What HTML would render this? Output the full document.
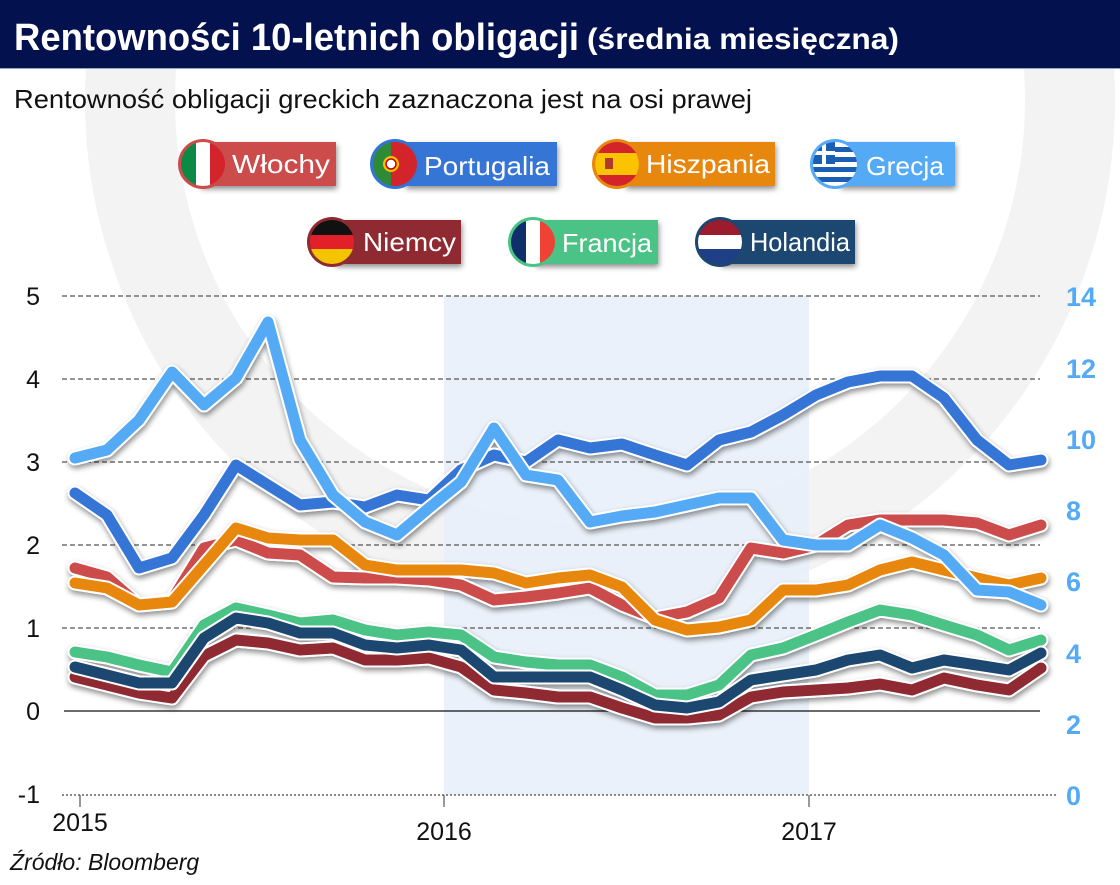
<!DOCTYPE html>
<html><head><meta charset="utf-8"><style>
html,body{margin:0;padding:0;background:#fff;}
svg{display:block;font-family:"Liberation Sans",sans-serif;}
</style></head><body>
<svg width="1120" height="885" viewBox="0 0 1120 885" xmlns="http://www.w3.org/2000/svg">
<defs>
<filter id="sh" x="-10%" y="-20%" width="120%" height="140%"><feGaussianBlur in="SourceAlpha" stdDeviation="3"/><feOffset dx="1" dy="3"/><feComponentTransfer><feFuncA type="linear" slope="0.45"/></feComponentTransfer><feMerge><feMergeNode/><feMergeNode in="SourceGraphic"/></feMerge></filter>
<clipPath id="cl"><circle cx="0" cy="0" r="22"/></clipPath>
</defs>
<!-- watermark -->
<circle cx="600" cy="100" r="470" fill="none" stroke="#f3f3f3" stroke-width="90"/>
<rect x="0" y="0" width="1120" height="68" fill="#03114f"/>
<circle cx="600" cy="100" r="470" fill="none" stroke="#ffffff" stroke-opacity="0.16" stroke-width="90" clip-path="inset(0 0 817px 0)"/>
<line x1="0" y1="68.5" x2="1120" y2="68.5" stroke="#9aa3c0" stroke-width="1"/>
<text x="14" y="50" fill="#fff" font-weight="bold" font-size="38" textLength="565" lengthAdjust="spacingAndGlyphs">Rentowności 10-letnich obligacji</text>
<text x="587" y="49" fill="#fff" font-weight="bold" font-size="30" textLength="312" lengthAdjust="spacingAndGlyphs">(średnia miesięczna)</text>
<text x="14" y="108" fill="#111" font-size="26" textLength="738" lengthAdjust="spacingAndGlyphs">Rentowność obligacji greckich zaznaczona jest na osi prawej</text>

<!-- band -->
<rect x="444" y="296" width="365" height="499" fill="#e8f0fa" opacity="0.9"/>
<!-- grid -->
<g stroke="#555" stroke-width="1.3" stroke-dasharray="5,3">
<line x1="62" y1="296" x2="1040" y2="296"/><line x1="62" y1="379" x2="1040" y2="379"/><line x1="62" y1="462" x2="1040" y2="462"/><line x1="62" y1="545" x2="1040" y2="545"/><line x1="62" y1="628" x2="1040" y2="628"/>
</g>
<line x1="62" y1="795" x2="1058" y2="795" stroke="#444" stroke-width="1.2" stroke-dasharray="2,2"/>
<line x1="64" y1="711" x2="1040" y2="711" stroke="#111" stroke-width="1.3"/>
<g stroke="#333" stroke-width="1"><line x1="80" y1="795" x2="80" y2="807"/><line x1="444" y1="795" x2="444" y2="807"/><line x1="809" y1="795" x2="809" y2="807"/></g>
<g font-size="25" fill="#111" text-anchor="end">
<text x="40" y="305">5</text><text x="40" y="388">4</text><text x="40" y="471">3</text><text x="40" y="554">2</text><text x="40" y="637">1</text><text x="40" y="720">0</text><text x="40" y="803">-1</text>
</g>
<g font-size="27" fill="#55aaf5" font-weight="bold" text-anchor="start">
<text x="1066" y="306">14</text><text x="1066" y="378">12</text><text x="1066" y="449">10</text><text x="1066" y="520">8</text><text x="1066" y="591">6</text><text x="1066" y="663">4</text><text x="1066" y="734">2</text><text x="1066" y="805">0</text>
</g>
<g font-size="25" fill="#111" text-anchor="middle">
<text x="80" y="831">2015</text><text x="444" y="840">2016</text><text x="809" y="840">2017</text>
</g>
<text x="10" y="870" font-size="23" font-style="italic" fill="#111">Źródło: Bloomberg</text>

<!-- series -->
<g fill="none" stroke-linejoin="round" stroke-linecap="round" filter="url(#sh)">
<g id="de"><polyline stroke="#fff" stroke-width="15" points="75,677 107,685 139,693 172,698 204,656 236,640 268,643 300,650 333,648 365,660 397,660 429,658 461,667 494,690 526,693 558,697 590,697 622,708 655,718 687,718 719,715 751,697 783,692 816,690 848,688 880,684 912,690 944,678 977,685 1009,690 1041,668"/><polyline stroke="#8f2a32" stroke-width="11" points="75,677 107,685 139,693 172,698 204,656 236,640 268,643 300,650 333,648 365,660 397,660 429,658 461,667 494,690 526,693 558,697 590,697 622,708 655,718 687,718 719,715 751,697 783,692 816,690 848,688 880,684 912,690 944,678 977,685 1009,690 1041,668"/></g>
<g><polyline stroke="#fff" stroke-width="15" points="75,652 107,657 139,665 172,672 204,625 236,608 268,615 300,623 333,620 365,630 397,635 429,632 461,635 494,657 526,662 558,665 590,665 622,677 655,695 687,695 719,685 751,655 783,648 816,635 848,622 880,610 912,615 944,625 977,635 1009,650 1041,640"/><polyline stroke="#4bc386" stroke-width="11" points="75,652 107,657 139,665 172,672 204,625 236,608 268,615 300,623 333,620 365,630 397,635 429,632 461,635 494,657 526,662 558,665 590,665 622,677 655,695 687,695 719,685 751,655 783,648 816,635 848,622 880,610 912,615 944,625 977,635 1009,650 1041,640"/></g>
<g><polyline stroke="#fff" stroke-width="15" points="75,667 107,675 139,683 172,683 204,638 236,618 268,623 300,633 333,633 365,645 397,648 429,645 461,650 494,677 526,677 558,677 590,677 622,690 655,705 687,708 719,702 751,680 783,675 816,670 848,660 880,655 912,668 944,660 977,665 1009,670 1041,653"/><polyline stroke="#1e4670" stroke-width="11" points="75,667 107,675 139,683 172,683 204,638 236,618 268,623 300,633 333,633 365,645 397,648 429,645 461,650 494,677 526,677 558,677 590,677 622,690 655,705 687,708 719,702 751,680 783,675 816,670 848,660 880,655 912,668 944,660 977,665 1009,670 1041,653"/></g>
<g><polyline stroke="#fff" stroke-width="15" points="75,568 107,577 139,605 172,600 204,548 236,540 268,553 300,555 333,577 365,578 397,578 429,580 461,585 494,600 526,597 558,593 590,588 622,605 655,618 687,612 719,598 751,548 783,553 816,545 848,525 880,520 912,520 944,520 977,523 1009,535 1041,525"/><polyline stroke="#cc4b4b" stroke-width="11" points="75,568 107,577 139,605 172,600 204,548 236,540 268,553 300,555 333,577 365,578 397,578 429,580 461,585 494,600 526,597 558,593 590,588 622,605 655,618 687,612 719,598 751,548 783,553 816,545 848,525 880,520 912,520 944,520 977,523 1009,535 1041,525"/></g>
<g><polyline stroke="#fff" stroke-width="15" points="75,583 107,588 139,605 172,602 204,565 236,528 268,538 300,540 333,540 365,565 397,570 429,570 461,570 494,573 526,583 558,578 590,575 622,587 655,620 687,630 719,627 751,620 783,590 816,590 848,585 880,570 912,562 944,570 977,578 1009,585 1041,578"/><polyline stroke="#e8870c" stroke-width="11" points="75,583 107,588 139,605 172,602 204,565 236,528 268,538 300,540 333,540 365,565 397,570 429,570 461,570 494,573 526,583 558,578 590,575 622,587 655,620 687,630 719,627 751,620 783,590 816,590 848,585 880,570 912,562 944,570 977,578 1009,585 1041,578"/></g>
<g><polyline stroke="#fff" stroke-width="15" points="75,493 107,515 139,568 172,558 204,515 236,465 268,485 300,505 333,502 365,507 397,495 429,500 461,470 494,455 526,462 558,440 590,448 622,444 655,455 687,465 719,440 751,432 783,415 816,395 848,382 880,376 912,376 944,398 977,440 1009,465 1041,460"/><polyline stroke="#3474d6" stroke-width="11" points="75,493 107,515 139,568 172,558 204,515 236,465 268,485 300,505 333,502 365,507 397,495 429,500 461,470 494,455 526,462 558,440 590,448 622,444 655,455 687,465 719,440 751,432 783,415 816,395 848,382 880,376 912,376 944,398 977,440 1009,465 1041,460"/></g>
<g><polyline stroke="#fff" stroke-width="15" points="75,458 107,450 139,420 172,372 204,405 236,378 268,322 300,440 333,495 365,522 397,535 429,508 461,482 494,428 526,475 558,480 590,522 622,516 655,512 687,505 719,498 751,498 783,540 816,545 848,545 880,525 912,538 944,555 977,590 1009,592 1041,605"/><polyline stroke="#55aaf5" stroke-width="11" points="75,458 107,450 139,420 172,372 204,405 236,378 268,322 300,440 333,495 365,522 397,535 429,508 461,482 494,428 526,475 558,480 590,522 622,516 655,512 687,505 719,498 751,498 783,540 816,545 848,545 880,525 912,538 944,555 977,590 1009,592 1041,605"/></g>
</g>

<!-- legend -->
<g font-size="26" fill="#fff">
<g filter="url(#sh)">
<rect x="200" y="142" width="136" height="44" fill="#cc4b4b"/>
<rect x="405" y="142" width="152" height="44" fill="#3474d6"/>
<rect x="625" y="142" width="150" height="44" fill="#e8870c"/>
<rect x="840" y="142" width="115" height="44" fill="#55aaf5"/>
<rect x="335" y="220" width="126" height="44" fill="#8f2a32"/>
<rect x="535" y="220" width="123" height="44" fill="#4bc386"/>
<rect x="720" y="220" width="135" height="44" fill="#1e4670"/>
</g>
<!-- flags -->
<g transform="translate(203,164)"><circle r="25" fill="#cc4b4b"/><g clip-path="url(#cl)"><rect x="-22" y="-22" width="15" height="44" fill="#0b8a45"/><rect x="-7" y="-22" width="14" height="44" fill="#fff"/><rect x="7" y="-22" width="15" height="44" fill="#d3232b"/></g></g>
<g transform="translate(395,164)"><circle r="25" fill="#3474d6"/><g clip-path="url(#cl)"><rect x="-22" y="-22" width="18" height="44" fill="#2f8a36"/><rect x="-4" y="-22" width="26" height="44" fill="#d3232b"/><circle cx="-4" r="8" fill="#f5c400"/><circle cx="-4" r="5" fill="#fff" stroke="#c00" stroke-width="1.5"/></g></g>
<g transform="translate(617,164)"><circle r="25" fill="#e8870c"/><g clip-path="url(#cl)"><rect x="-22" y="-22" width="44" height="44" fill="#d3232b"/><rect x="-22" y="-11" width="44" height="22" fill="#fcc400"/><rect x="-12" y="-6" width="8" height="11" fill="#b03a2a"/></g></g>
<g transform="translate(835,164)"><circle r="25" fill="#55aaf5"/><g clip-path="url(#cl)"><rect x="-22" y="-22" width="44" height="44" fill="#fff"/><rect x="-22" y="-17" width="44" height="5" fill="#1b5fb5"/><rect x="-22" y="-7" width="44" height="5" fill="#1b5fb5"/><rect x="-22" y="3" width="44" height="5" fill="#1b5fb5"/><rect x="-22" y="13" width="44" height="5" fill="#1b5fb5"/><rect x="-22" y="-22" width="22" height="22" fill="#1b5fb5"/><rect x="-13" y="-22" width="4" height="22" fill="#fff"/><rect x="-22" y="-13" width="22" height="4" fill="#fff"/></g></g>
<g transform="translate(332,242)"><circle r="25" fill="#8f2a32"/><g clip-path="url(#cl)"><rect x="-22" y="-22" width="44" height="15" fill="#111"/><rect x="-22" y="-7" width="44" height="14" fill="#e2202a"/><rect x="-22" y="7" width="44" height="15" fill="#f5c400"/></g></g>
<g transform="translate(533,242)"><circle r="25" fill="#4bc386"/><g clip-path="url(#cl)"><rect x="-22" y="-22" width="15" height="44" fill="#0f2f6b"/><rect x="-7" y="-22" width="14" height="44" fill="#fff"/><rect x="7" y="-22" width="15" height="44" fill="#ef4235"/></g></g>
<g transform="translate(720,242)"><circle r="25" fill="#1e4670"/><g clip-path="url(#cl)"><rect x="-22" y="-22" width="44" height="15" fill="#9b1c2c"/><rect x="-22" y="-7" width="44" height="14" fill="#fff"/><rect x="-22" y="7" width="44" height="15" fill="#1e3f85"/></g></g>
<text x="232" y="173" textLength="98" lengthAdjust="spacingAndGlyphs">Włochy</text>
<text x="424" y="175" textLength="126" lengthAdjust="spacingAndGlyphs">Portugalia</text>
<text x="646" y="173" textLength="124" lengthAdjust="spacingAndGlyphs">Hiszpania</text>
<text x="866" y="175" textLength="78" lengthAdjust="spacingAndGlyphs">Grecja</text>
<text x="363" y="251" textLength="93" lengthAdjust="spacingAndGlyphs">Niemcy</text>
<text x="562" y="252" textLength="90" lengthAdjust="spacingAndGlyphs">Francja</text>
<text x="750" y="251" textLength="100" lengthAdjust="spacingAndGlyphs">Holandia</text>
</g>
</svg>
</body></html>
